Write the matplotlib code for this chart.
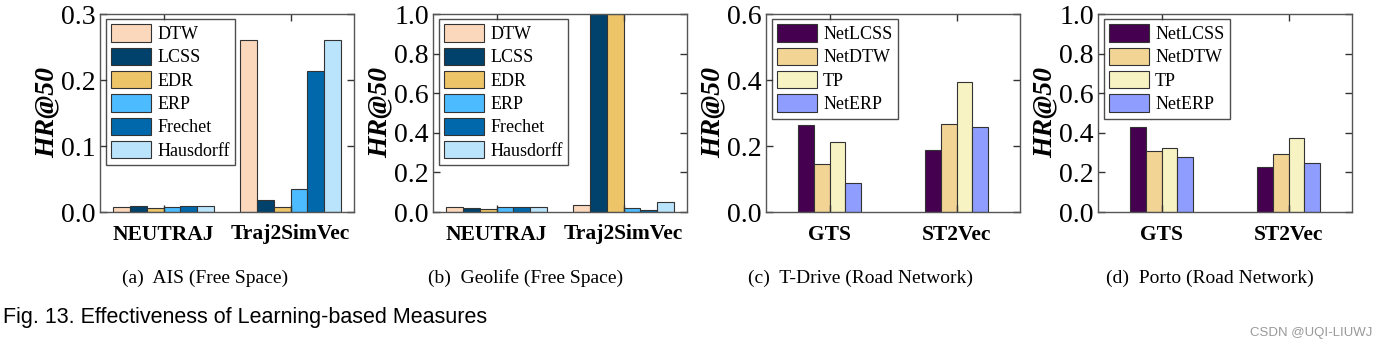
import matplotlib.pyplot as plt
import numpy as np

plt.rcParams['font.family'] = ['Liberation Serif', 'DejaVu Serif']

# (a) AIS
ais_groups = ["NEUTRAJ", "Traj2SimVec"]
ais_labels = ["DTW", "LCSS", "EDR", "ERP", "Frechet", "Hausdorff"]
ais_vals = [
    [0.008, 0.260],   # DTW
    [0.0095, 0.018],  # LCSS
    [0.0067, 0.008],  # EDR
    [0.0077, 0.035],  # ERP
    [0.0085, 0.214],  # Frechet
    [0.0085, 0.260],  # Hausdorff
]

# (b) Geolife
geo_groups = ["NEUTRAJ", "Traj2SimVec"]
geo_vals = [
    [0.027, 0.037],
    [0.022, 1.0],
    [0.017, 1.0],
    [0.024, 0.020],
    [0.024, 0.012],
    [0.024, 0.052],
]

# (c) T-Drive, (d) Porto
road_groups = ["GTS", "ST2Vec"]
road_labels = ["NetLCSS", "NetDTW", "TP", "NetERP"]
tdrive_vals = [
    [0.265, 0.189],
    [0.144, 0.268],
    [0.211, 0.394],
    [0.087, 0.257],
]
porto_vals = [
    [0.427, 0.228],
    [0.310, 0.292],
    [0.325, 0.376],
    [0.280, 0.248],
]

free_colors = ["#FBD8BC", "#00426B", "#EDC468", "#4DBBFF", "#0068AB", "#BAE3FC"]
road_colors = ["#45014F", "#F2D494", "#F7F3C2", "#8F9DFF"]

W, H = 1386, 351
fig = plt.figure(figsize=(W / 100, H / 100), dpi=100)

panels = [
    (100, ais_groups, ais_labels, ais_vals, free_colors, 0.8, 0.3, [0.0, 0.1, 0.2, 0.3], "(a)  AIS (Free Space)", 205),
    (433, geo_groups, ais_labels, geo_vals, free_colors, 0.8, 1.0, [0.0, 0.2, 0.4, 0.6, 0.8, 1.0], "(b)  Geolife (Free Space)", 526),
    (766, road_groups, road_labels, tdrive_vals, road_colors, 0.5, 0.6, [0.0, 0.2, 0.4, 0.6], "(c)  T-Drive (Road Network)", 860),
    (1098, road_groups, road_labels, porto_vals, road_colors, 0.5, 1.0, [0.0, 0.2, 0.4, 0.6, 0.8, 1.0], "(d)  Porto (Road Network)", 1210),
]

for left, groups, labels, vals, colors, gw, ymax, yt, cap, capx in panels:
    ax = fig.add_axes([left / W, 1 - 212 / H, 254 / W, 198 / H])
    x = np.arange(len(groups))
    n = len(labels)
    bw = gw / n
    for i, (lab, v, c) in enumerate(zip(labels, vals, colors)):
        ax.bar(x - gw / 2 + bw * (i + 0.5), v, bw, color=c, edgecolor="#333333",
               linewidth=0.8, label=lab)
    ax.set_xlim(-0.5, 1.5)
    ax.set_ylim(0, ymax)
    ax.set_yticks(yt)
    ax.set_yticklabels([f"{t:.1f}" for t in yt], fontsize=20)
    ax.set_xticks(x)
    ax.set_xticklabels(groups, fontsize=15.5, fontweight="bold")
    ax.tick_params(direction="in", top=True, right=True, length=5, width=1,
                   color="#333333", pad=3)
    ax.tick_params(axis="x", pad=9)
    for s in ax.spines.values():
        s.set_color("#555555")
        s.set_linewidth(1.0)
    ax.set_ylabel("HR@50", fontsize=20, fontweight="bold", fontstyle="italic", labelpad=1)
    leg = ax.legend(loc="upper left", bbox_to_anchor=(0.022, 0.975), fontsize=13,
                    frameon=True, fancybox=False, edgecolor="#222222",
                    handlelength=2.2, handleheight=1.1, labelspacing=0.25,
                    handletextpad=0.35, borderpad=0.3, borderaxespad=0.0)
    leg.get_frame().set_linewidth(1.0)
    fig.text(capx / W, 1 - 278 / H, cap, ha="center", va="center", fontsize=14)

fig.text(3 / W, 1 - 318 / H, "Fig. 13. Effectiveness of Learning-based Measures",
         family="Liberation Sans", fontsize=15.5, ha="left", va="center")
fig.text(1372 / W, 1 - 333 / H, "CSDN @UQI-LIUWJ", family="Liberation Sans",
         fontsize=9.5, color="#999999", ha="right", va="center")

fig.savefig("out.png", dpi=100)
